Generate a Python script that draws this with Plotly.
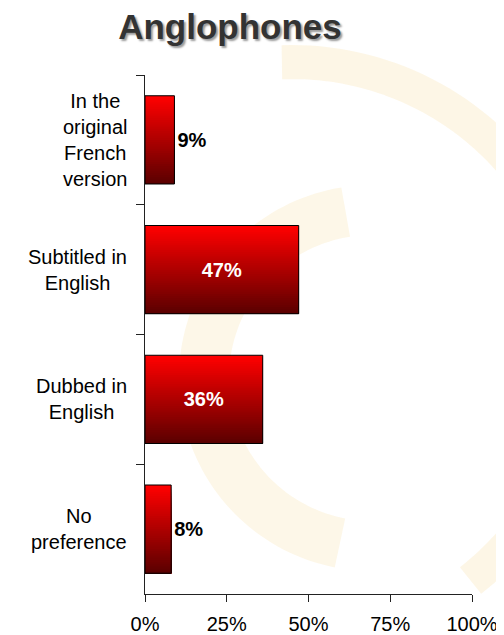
import numpy as np
import plotly.graph_objects as go

# data
categories = ["In the original French version", "Subtitled in English",
              "Dubbed in English", "No preference"]
tick_labels = ["In the<br>original<br>French<br>version", "Subtitled in<br>English",
               "Dubbed in<br>English", "No<br>preference"]
values = [9, 47, 36, 8]
x_ticks = [0, 25, 50, 75, 100]
x_tick_text = ["0%", "25%", "50%", "75%", "100%"]

# the page body has an 8px margin, so the figure is made 8px smaller
OFF = 8
PAGE_W, PAGE_H = 504, 635
W, H = PAGE_W - OFF, PAGE_H - OFF
X0, X1, Y0, Y1 = 145, 472, 75, 594  # plot area on the page
ml, mr, mt, mb = X0 - OFF, PAGE_W - X1, Y0 - OFF, PAGE_H - Y1
FONT = "Liberation Sans, Arial, sans-serif"

fig = go.Figure()

# vertical red gradient: stacked slices, each one runs to the bar bottom
bar_w = 0.68
n_slices = 40
top_rgb = np.array([255, 0, 0])
bot_rgb = np.array([92, 0, 0])
for k in range(n_slices):
    f = k / (n_slices - 1)
    c = (top_rgb * (1 - f) + bot_rgb * f).round().astype(int)
    fig.add_trace(go.Bar(
        x=values, y=categories, orientation="h",
        width=bar_w - k * bar_w / n_slices,
        offset=-bar_w / 2 + k * bar_w / n_slices,
        marker=dict(color=f"rgb({c[0]},{c[1]},{c[2]})", line=dict(width=0)),
        hoverinfo="skip", showlegend=False,
    ))

# outline + value labels
fig.add_trace(go.Bar(
    x=values, y=categories, orientation="h", width=bar_w,
    marker=dict(color="rgba(0,0,0,0)", line=dict(color="black", width=1)),
    text=[f"{v}%" for v in values],
    textposition=["outside", "inside", "inside", "outside"],
    insidetextanchor="middle",
    textfont=dict(family=FONT, size=20, weight="bold",
                  color=["black", "white", "white", "black"]),
    cliponaxis=False, showlegend=False,
))

# faint logo arcs in the background (page pixels -> paper coords)
def arc_path(cx, cy, r, t0, t1):
    ts = np.radians(np.linspace(t0, t1, 80))
    px = cx + r * np.cos(ts)
    py = cy + r * np.sin(ts)
    u = (px - X0) / (X1 - X0)
    v = (Y1 - py) / (Y1 - Y0)
    return "M " + " L ".join(f"{a:.4f},{b:.4f}" for a, b in zip(u, v))

shapes = [
    dict(type="path", path=arc_path(292, 352, 290, -92, 52), xref="paper", yref="paper",
         line=dict(color="rgba(245,215,140,0.22)", width=34), layer="below"),
    dict(type="path", path=arc_path(372, 378, 168, 101, 261), xref="paper", yref="paper",
         line=dict(color="rgba(245,215,140,0.2)", width=50), layer="below"),
]

annotations = [
    dict(x=0, y=c, xref="paper", yref="y", text=t, showarrow=False,
         xanchor="right", yanchor="middle", align="center", xshift=-16,
         font=dict(family=FONT, size=20, color="black"))
    for c, t in zip(categories, tick_labels)
]

fig.update_layout(
    width=W, height=H, autosize=False,
    margin=dict(l=ml, r=mr, t=mt, b=mb, autoexpand=False),
    paper_bgcolor="white", plot_bgcolor="rgba(0,0,0,0)",
    barmode="overlay",
    title=dict(text="<b>Anglophones</b>", x=(230 - OFF) / W, xanchor="center",
               xref="container", y=1 - 6 / H, yanchor="top", yref="container",
               font=dict(family=FONT, size=35, color="#333333",
                         shadow="2px 2px 2px #9a9a9a")),
    xaxis=dict(range=[0, 100], tickvals=x_ticks, ticktext=x_tick_text,
               showgrid=False, zeroline=False,
               showline=True, linecolor="#222", linewidth=1,
               ticks="outside", ticklen=7, tickcolor="#222", ticklabelstandoff=5,
               tickfont=dict(family=FONT, size=20, color="black")),
    yaxis=dict(type="category", categoryorder="array", categoryarray=categories,
               autorange="reversed", showticklabels=False,
               showgrid=False, zeroline=False,
               showline=True, linecolor="#222", linewidth=1,
               ticks="outside", ticklen=8, tickcolor="#222", tickson="boundaries"),
    shapes=shapes,
    annotations=annotations,
)

fig.write_html("out.html")
